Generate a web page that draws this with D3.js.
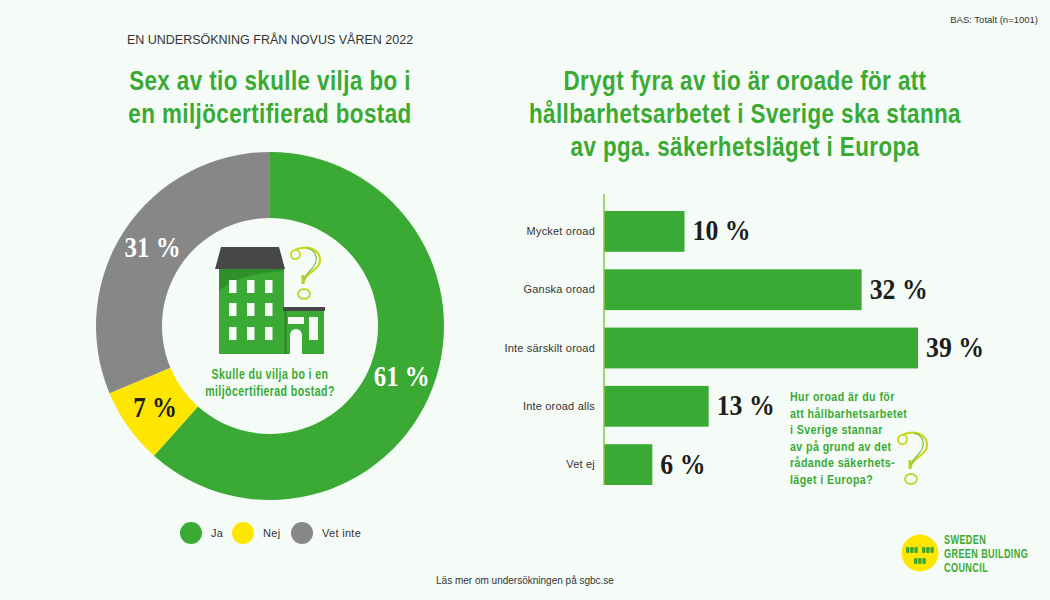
<!DOCTYPE html>
<html>
<head>
<meta charset="utf-8">
<script src="https://cdn.jsdelivr.net/npm/d3@7"></script>
<style>
  html, body { margin: 0; padding: 0; background: #f5fcf7; overflow: hidden; }
  svg { display: block; }
  .head { font-family: "Liberation Sans", sans-serif; font-weight: 700; fill: #3aaa35; }
  .plain { font-family: "Liberation Sans", Arial, sans-serif; fill: #333; }
  .pct { font-family: "Liberation Serif", serif; font-weight: 700; }
</style>
</head>
<body>
<script>
// donut
var pieCats = ["Ja", "Nej", "Vet inte"];
var pieVals = [61, 7, 31];
var pieColors = ["#3aaa35", "#ffe600", "#878787"];
// bars
var barCats = ["Mycket oroad", "Ganska oroad", "Inte särskilt oroad", "Inte oroad alls", "Vet ej"];
var barVals = [10, 32, 39, 13, 6];
// text
var leftTitle = ["Sex av tio skulle vilja bo i", "en miljöcertifierad bostad"];
var rightTitle = ["Drygt fyra av tio är oroade för att", "hållbarhetsarbetet i Sverige ska stanna", "av pga. säkerhetsläget i Europa"];
var pieQuestion = ["Skulle du vilja bo i en", "miljöcertifierad bostad?"];
var barQuestion = ["Hur oroad är du för", "att hållbarhetsarbetet", "i Sverige stannar", "av på grund av det", "rådande säkerhets-", "läget i Europa?"];
var logoLines = ["SWEDEN", "GREEN BUILDING", "COUNCIL"];

var green = "#3aaa35";
var bg = "#f5fcf7";

var svg = d3.select("body").append("svg")
  .attr("width", 1050)
  .attr("height", 600);

svg.append("rect").attr("width", 1050).attr("height", 600).attr("fill", bg);

// no narrow font installed, so squeeze the text sideways
function squeeze(x, y, k) {
  return "translate(" + x + "," + y + ") scale(" + k + ",1)";
}

// green condensed text block
function headBlock(lines, x, y, step, size, k, anchor) {
  svg.selectAll(null).data(lines).join("text")
    .attr("class", "head")
    .attr("transform", (d, i) => squeeze(x, y + i * step, k))
    .attr("text-anchor", anchor)
    .style("font-size", size + "px")
    .style("letter-spacing", "0.5px")
    .text(d => d);
}

// top texts
svg.append("text").attr("class", "plain").attr("x", 1038).attr("y", 23)
  .attr("text-anchor", "end").style("font-size", "9.5px").text("BAS: Totalt (n=1001)");
svg.append("text").attr("class", "plain").attr("x", 270).attr("y", 44)
  .attr("text-anchor", "middle").style("font-size", "12.5px")
  .text("EN UNDERSÖKNING FRÅN NOVUS VÅREN 2022");

headBlock(leftTitle, 270, 90, 33, 27, 0.83, "middle");
headBlock(rightTitle, 745, 90, 33, 27, 0.83, "middle");

// DONUT
var cx = 270, cy = 326;
var pie = d3.pie().sort(null)(pieVals);
var arc = d3.arc().innerRadius(108).outerRadius(174);
var labelArc = d3.arc().innerRadius(141).outerRadius(141);
var donut = svg.append("g").attr("transform", "translate(" + cx + "," + cy + ")");

donut.selectAll("path").data(pie).join("path")
  .attr("d", arc)
  .attr("fill", (d, i) => pieColors[i]);

donut.selectAll("text").data(pie).join("text")
  .attr("class", "pct")
  .attr("transform", function(d) {
    var c = labelArc.centroid(d);
    return squeeze(c[0], c[1], 0.86);
  })
  .attr("text-anchor", "middle")
  .attr("dy", "0.33em")
  .attr("fill", (d, i) => i === 1 ? "#1d1d1b" : "#ffffff")
  .style("font-size", "29px")
  .text(d => d.data + " %");

// question mark, used twice
function questionMark(x, y) {
  var g = svg.append("g").attr("transform", "translate(" + x + "," + y + ")")
    .attr("fill", "none");
  g.append("circle").attr("cx", 5.5).attr("cy", 7.5).attr("r", 4.6)
    .attr("stroke", "#c9d81f").attr("stroke-width", 1.8);
  g.append("path")
    .attr("d", "M5 3 C15 -2 30 1 30 13 C30 24 14 25 13 37")
    .attr("stroke", "#c9d81f").attr("stroke-width", 2.2);
  g.append("path")
    .attr("d", "M17 1 C24 3 27 8 26 14 C25 22 15 25 14 34")
    .attr("stroke", "#6cbb3c").attr("stroke-width", 1.1);
  g.append("line").attr("x1", 13).attr("x2", 13).attr("y1", 28).attr("y2", 37)
    .attr("stroke", "#b5d22a").attr("stroke-width", 3);
  g.append("ellipse").attr("cx", 14).attr("cy", 47).attr("rx", 6).attr("ry", 5)
    .attr("stroke", "#c0d42a").attr("stroke-width", 1.8);
}

// house icon
var house = svg.append("g").attr("transform", "translate(215,246)");
house.append("rect").attr("x", 4).attr("y", 23).attr("width", 65).attr("height", 85).attr("fill", green);
house.append("path").attr("d", "M4 23 H69 V25 C45 26 15 32 4 46 Z").attr("fill", "#2f8f2b");
house.append("path").attr("d", "M6 1 H64 L70 23 H0 Z").attr("fill", "#474747");
var winX = [14, 32, 50], winY = [34, 57, 81];
winY.forEach(function(wy) {
  winX.forEach(function(wx) {
    house.append("rect").attr("x", wx).attr("y", wy).attr("width", 7.5).attr("height", 13).attr("fill", bg);
  });
});
house.append("rect").attr("x", 69).attr("y", 62).attr("width", 40).attr("height", 46).attr("fill", green);
house.append("rect").attr("x", 69).attr("y", 64).attr("width", 3).attr("height", 44).attr("fill", "#2f8f2b");
house.append("rect").attr("x", 68).attr("y", 61).attr("width", 42).attr("height", 4).attr("fill", "#474747");
house.append("rect").attr("x", 73).attr("y", 71).attr("width", 16).attr("height", 7).attr("fill", bg);
house.append("rect").attr("x", 94).attr("y", 71).attr("width", 9).attr("height", 23).attr("fill", bg);
house.append("path").attr("d", "M75 108 V89 A6 6 0 0 1 87 89 V108 Z").attr("fill", bg);
questionMark(290, 247);

headBlock(pieQuestion, 270, 379, 17, 14, 0.76, "middle");

// legend
var legendX = d3.scaleOrdinal().domain(pieCats).range([191, 243, 302]);
var legend = svg.selectAll(null).data(pieCats).join("g")
  .attr("transform", d => "translate(" + legendX(d) + ",533)");
legend.append("circle").attr("r", 11).attr("fill", (d, i) => pieColors[i]);
legend.append("text").attr("class", "plain")
  .attr("x", 20).attr("dy", "0.1em").attr("dominant-baseline", "middle")
  .style("font-size", "11px").style("letter-spacing", "0.3px").text(d => d);

// BARS
var x = d3.scaleLinear().domain([0, 39]).range([604, 918]);
var y = d3.scaleBand().domain(barCats).range([211, 485]).paddingInner(0.3);

svg.selectAll(".bar").data(barVals).join("rect")
  .attr("class", "bar")
  .attr("x", x(0))
  .attr("y", (d, i) => y(barCats[i]))
  .attr("width", d => x(d) - x(0))
  .attr("height", y.bandwidth())
  .attr("fill", green);

var axisG = svg.append("g").attr("transform", "translate(" + x(0) + ",0)")
  .call(d3.axisLeft(y).tickSize(0).tickPadding(9));
axisG.select(".domain").remove();
axisG.selectAll("text")
  .attr("class", "plain")
  .style("font-family", '"Liberation Sans", Arial, sans-serif')
  .style("font-size", "11px")
  .style("letter-spacing", "0.2px");

svg.append("line").attr("x1", x(0)).attr("x2", x(0)).attr("y1", 194).attr("y2", 485)
  .attr("stroke", "#8cc63f").attr("stroke-width", 1.5);

svg.selectAll(".val").data(barVals).join("text")
  .attr("class", "pct val")
  .attr("transform", (d, i) => squeeze(x(d) + 8, y(barCats[i]) + y.bandwidth() / 2, 0.86))
  .attr("dy", "0.3em")
  .attr("fill", "#1d1d1b")
  .style("font-size", "30px")
  .text(d => d + " %");

headBlock(barQuestion, 790, 401, 16.6, 13, 0.82, "start");
questionMark(897, 432);

// footer + logo
svg.append("text").attr("class", "plain").attr("x", 525).attr("y", 584)
  .attr("text-anchor", "middle").style("font-size", "10px")
  .text("Läs mer om undersökningen på sgbc.se");

svg.append("circle").attr("cx", 920).attr("cy", 553).attr("r", 18.5).attr("fill", "#ffe600");
var logoHouses = [[906, 547], [922, 547], [914, 558]];
logoHouses.forEach(function(p) {
  [0, 4.2, 8.4].forEach(function(dx) {
    svg.append("rect").attr("x", p[0] + dx).attr("y", p[1]).attr("width", 3.4).attr("height", 6)
      .attr("rx", 1).attr("fill", green);
  });
});
headBlock(logoLines, 944, 544, 14.2, 12.5, 0.73, "start");
</script>
</body>
</html>
